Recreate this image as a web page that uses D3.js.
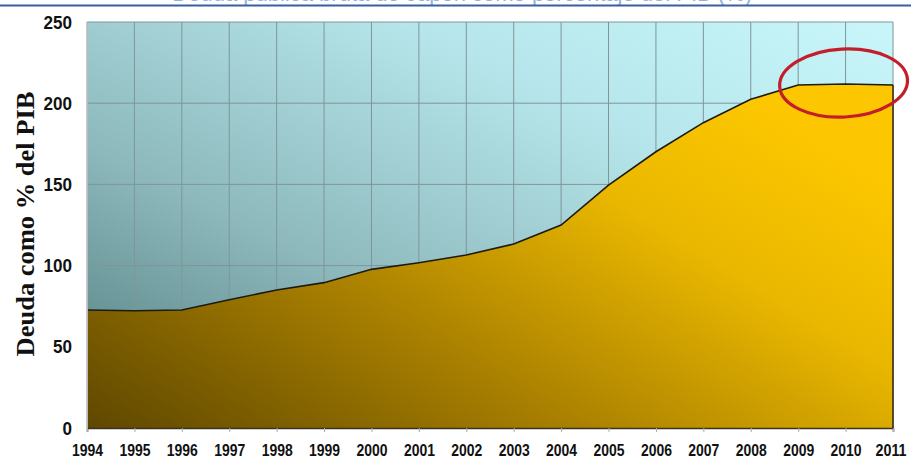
<!DOCTYPE html>
<html><head><meta charset="utf-8">
<script src="https://cdn.jsdelivr.net/npm/d3@7"></script>
<style>html,body{margin:0;padding:0;background:#fff;}svg{display:block;}</style>
</head><body>
<script>
const years = [1994,1995,1996,1997,1998,1999,2000,2001,2002,2003,2004,2005,2006,2007,2008,2009,2010,2011];
const debt  = [72.7,72.2,72.7,79,85,89.5,97.7,101.8,106.5,113.3,125,149.6,170.1,188,202.4,211.2,211.8,211.2];
const yTicks = [0,50,100,150,200,250];
const yTitle = "Deuda como % del PIB";
const chartTitle = "Deuda pública bruta de Japón como porcentaje del PIB (%)";

const W = 911, H = 458;
const m = {l:87, r:18, t:22, b:30};
const svg = d3.select("body").append("svg").attr("width",W).attr("height",H);
const defs = svg.append("defs");

const x = d3.scaleLinear().domain([1994,2011]).range([m.l, W-m.r]);
const y = d3.scaleLinear().domain([0,250]).range([H-m.b, m.t]);

// gradients
const gBg = defs.append("linearGradient").attr("id","bg").attr("x1","0").attr("y1","1").attr("x2","1").attr("y2","0");
gBg.append("stop").attr("offset","0%").attr("stop-color","#4f7a7c");
gBg.append("stop").attr("offset","35%").attr("stop-color","#8db9bc");
gBg.append("stop").attr("offset","70%").attr("stop-color","#b6e6eb");
gBg.append("stop").attr("offset","100%").attr("stop-color","#c8f6fb");
const gAr = defs.append("linearGradient").attr("id","ar").attr("x1","0").attr("y1","1").attr("x2","1").attr("y2","0.3");
gAr.append("stop").attr("offset","0%").attr("stop-color","#5e4700");
gAr.append("stop").attr("offset","40%").attr("stop-color","#a87f00");
gAr.append("stop").attr("offset","75%").attr("stop-color","#e9b700");
gAr.append("stop").attr("offset","100%").attr("stop-color","#fcc700");

// top title (cropped by the page edge, as in the reference) and blue rule
svg.append("text").attr("x",752).attr("y",0.5).attr("text-anchor","end")
  .attr("font-family","Liberation Sans, Arial, sans-serif").attr("font-size",22)
  .attr("fill","#8fb4e2").text(chartTitle);
svg.append("line").attr("x1",0).attr("x2",W).attr("y1",5.5).attr("y2",5.5)
  .attr("stroke","#3a5f9b").attr("stroke-width",2);

// plot background
svg.append("rect").attr("x",x(1994)).attr("y",y(250)).attr("width",x(2011)-x(1994)).attr("height",y(0)-y(250))
  .attr("fill","url(#bg)");

// grid
svg.append("g").selectAll("line").data(years).join("line")
  .attr("x1",d=>x(d)).attr("x2",d=>x(d)).attr("y1",y(250)).attr("y2",y(0))
  .attr("stroke","#7f9699").attr("stroke-width",1);
svg.append("g").selectAll("line").data(yTicks).join("line")
  .attr("x1",x(1994)).attr("x2",x(2011)).attr("y1",d=>y(d)).attr("y2",d=>y(d))
  .attr("stroke","#7f9699").attr("stroke-width",1);

// area
const area = d3.area().x((d,i)=>x(years[i])).y0(y(0)).y1(d=>y(d));
svg.append("path").datum(debt).attr("d",area).attr("fill","url(#ar)");
const line = d3.line().x((d,i)=>x(years[i])).y(d=>y(d));
svg.append("path").datum(debt).attr("d",line).attr("fill","none").attr("stroke","#1e1a10").attr("stroke-width",1.6);
svg.append("line").attr("x1",x(2011)).attr("x2",x(2011)).attr("y1",y(debt[debt.length-1])).attr("y2",y(0))
  .attr("stroke","#2a2410").attr("stroke-width",1.5);

// axes
const xAxis = d3.axisBottom(x).tickValues(years).tickFormat(d3.format("d")).tickSize(4).tickPadding(13);
const gx = svg.append("g").attr("transform",`translate(0,${y(0)})`).call(xAxis);
gx.select(".domain").attr("stroke","#3a3320").attr("stroke-width",1.5);
gx.selectAll(".tick line").attr("stroke","#aaa");
gx.selectAll("text").attr("font-family","Liberation Sans, Arial, sans-serif")
  .attr("font-weight","bold").attr("font-size",16).attr("fill","#111")
  .attr("textLength",31).attr("lengthAdjust","spacingAndGlyphs")
  .attr("dx",d=>d===2011?"-2.5":"0");

const yAxis = d3.axisLeft(y).tickValues(yTicks).tickSize(0).tickPadding(15);
const gy = svg.append("g").attr("transform",`translate(${x(1994)},0)`).call(yAxis);
gy.select(".domain").attr("stroke","#bbb");
gy.selectAll("text").attr("font-family","Liberation Sans, Arial, sans-serif")
  .attr("font-weight","bold").attr("font-size",19).attr("fill","#111")
  .attr("textLength",d=>String(d).length*9.5).attr("lengthAdjust","spacingAndGlyphs");

svg.append("text").attr("transform","translate(34,224) rotate(-90)").attr("text-anchor","middle")
  .attr("font-family","Liberation Serif, Times New Roman, serif").attr("font-weight","bold")
  .attr("font-size",26).attr("fill","#111")
  .attr("textLength",265).attr("lengthAdjust","spacingAndGlyphs").text(yTitle);

// highlight ellipse
svg.append("ellipse").attr("cx",(x(2009)+x(2011))/2-2).attr("cy",y(debt[16])-1).attr("rx",64).attr("ry",34)
  .attr("transform",`rotate(-3,${(x(2009)+x(2011))/2-2},${y(debt[16])-1})`)
  .attr("fill","none").attr("stroke","#c41e2a").attr("stroke-width",3.2);
</script>
</body></html>
